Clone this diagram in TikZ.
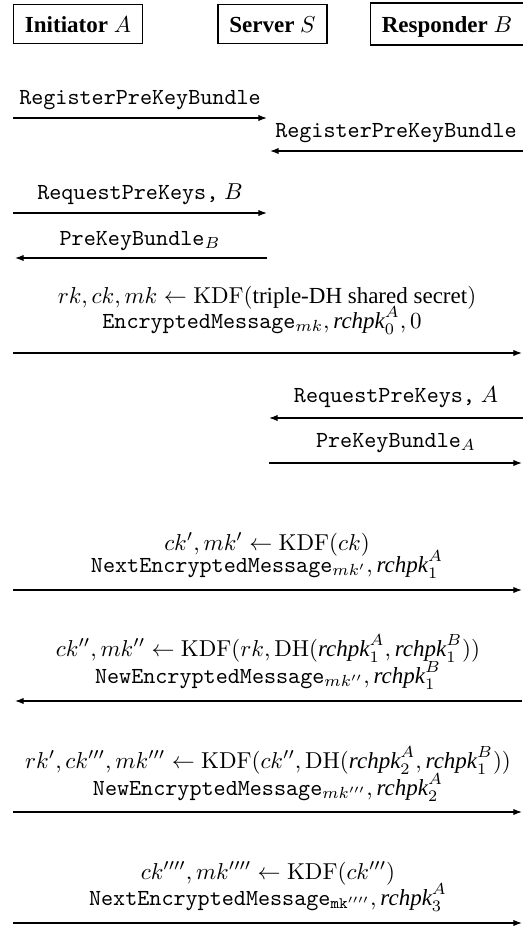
\documentclass[tikz,border=0pt]{standalone}
\usepackage{amsmath}
\usepackage[no-math]{fontspec}
\setmainfont{Liberation Serif}
\usetikzlibrary{arrows.meta,positioning}
\tikzset{
  party/.style={draw, semithick, font=\bfseries, text height=7pt, text depth=0pt, inner xsep=5pt, inner ysep=5pt, anchor=base},
  line/.style={-{Latex[length=3.8pt,width=2.8pt]}, line width=0.6pt},
  lbl/.style={anchor=base, inner sep=0pt}
}
\newcommand{\rch}{\textit{rchpk}}

\begin{document}
\begin{tikzpicture}[x=0.4348pt, y=-0.4348pt]
  \useasboundingbox (0,0) rectangle (523,926);

  % the three parties
  \node[party] (ini) at (78,32) {Initiator $A$};
  \node[party] (srv) at (272.5,32) {Server $S$};
  \node[party, inner ysep=5.6pt] (rsp) at (447,32) {Responder $B$};

  % registration
  \coordinate (a1) at (13,118);  \coordinate (s1) at (267,118);
  \coordinate (b2) at (523,151); \coordinate (s2) at (270,151);
  \node[lbl] (m1) at (140,104) {\texttt{RegisterPreKeyBundle}};
  \node[lbl] (m2) at (396,137) {\texttt{RegisterPreKeyBundle}};
  \draw[line] (a1) -- (s1);
  \draw[line] (b2) -- (s2);

  % A fetches B's bundle
  \coordinate (a3) at (13,213);  \coordinate (s3) at (267,213);
  \coordinate (s4) at (267,258); \coordinate (a4) at (15,258);
  \node[lbl] (m3) at (140,199) {\texttt{RequestPreKeys,} $B$};
  \node[lbl] (m4) at (140,245) {\texttt{PreKeyBundle}$_B$};
  \draw[line] (a3) -- (s3);
  \draw[line] (s4) -- (a4);

  % first message
  \coordinate (a5) at (13,353); \coordinate (b5) at (522,353);
  \node[lbl] (k5) at (267,303) {$rk, ck, mk \leftarrow \mathrm{KDF}(\text{triple-DH shared secret})$};
  \node[lbl] (m5) at (262,328) {\texttt{EncryptedMessage}$_{mk}, \rch^A_0, 0$};
  \draw[line] (a5) -- (b5);

  % B fetches A's bundle
  \coordinate (b6) at (523,418); \coordinate (s6) at (269,418);
  \coordinate (s7) at (269,463); \coordinate (b7) at (522,463);
  \node[lbl] (m6) at (396,402) {\texttt{RequestPreKeys,} $A$};
  \node[lbl] (m7) at (396,447) {\texttt{PreKeyBundle}$_A$};
  \draw[line] (b6) -- (s6);
  \draw[line] (s7) -- (b7);

  % ratchet steps
  \coordinate (a8) at (13,590); \coordinate (b8) at (522,590);
  \node[lbl] (k8) at (267,550) {$ck', mk' \leftarrow \mathrm{KDF}(ck)$};
  \node[lbl] (m8) at (267,572) {\texttt{NextEncryptedMessage}$_{mk'}, \rch^A_1$};
  \draw[line] (a8) -- (b8);

  \coordinate (b9) at (522,701); \coordinate (a9) at (15,701);
  \node[lbl] (k9) at (268,656) {$ck'', mk'' \leftarrow \mathrm{KDF}(rk, \mathrm{DH}(\rch^A_1, \rch^B_1))$};
  \node[lbl] (m9) at (268,683) {\texttt{NewEncryptedMessage}$_{mk''}, \rch^B_1$};
  \draw[line] (b9) -- (a9);

  \coordinate (a10) at (13,812); \coordinate (b10) at (522,812);
  \node[lbl] (k10) at (268,768) {$rk', ck''', mk''' \leftarrow \mathrm{KDF}(ck'', \mathrm{DH}(\rch^A_2, \rch^B_1))$};
  \node[lbl] (m10) at (268,795) {\texttt{NewEncryptedMessage}$_{mk'''}, \rch^A_2$};
  \draw[line] (a10) -- (b10);

  \coordinate (a11) at (13,923); \coordinate (b11) at (522,923);
  \node[lbl] (k11) at (268,879) {$ck'''', mk'''' \leftarrow \mathrm{KDF}(ck''')$};
  \node[lbl] (m11) at (268,905) {\texttt{NextEncryptedMessage}$_{\texttt{mk}''''}, \rch^A_3$};
  \draw[line] (a11) -- (b11);
\end{tikzpicture}
\end{document}
